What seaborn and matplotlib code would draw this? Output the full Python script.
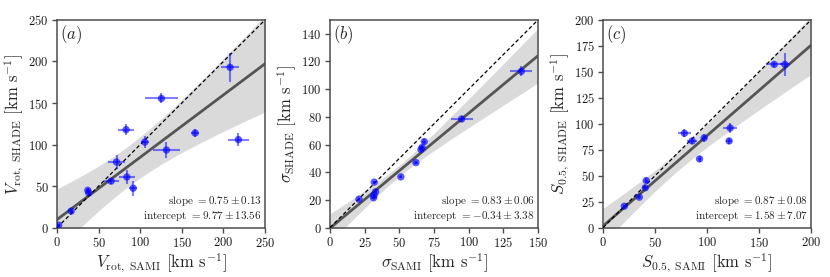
import numpy as np
import pandas as pd
import matplotlib
matplotlib.use("Agg")
import matplotlib.pyplot as plt
import seaborn as sns

# ---------------- data ----------------
# Panel (a): rotation velocity
vrot_sami = [2, 17, 37, 38, 65, 71.5, 84, 83, 91.5, 105.5, 125.5, 131.5, 166, 208, 218]
vrot_shade = [3, 20, 45, 42, 56, 79, 61, 118, 47.5, 103, 155.5, 93.5, 114, 193, 106]
vrot_sami_err = [1.5, 2, 2, 2, 9, 10, 10, 9.5, 5, 5, 20, 16, 5, 11, 13]
vrot_shade_err = [2, 2, 3, 3, 3, 8, 9, 7, 9, 7, 6, 10, 5, 17.5, 8]

# Panel (b): velocity dispersion
sig_sami = [20.9, 31.9, 31.7, 31.4, 32.9, 51.1, 62, 65.6, 66.4, 68, 94.9, 138]
sig_shade = [20.6, 32.9, 23.3, 21.6, 25.9, 36.7, 47, 56.5, 58, 62.2, 78.5, 112.9]
sig_sami_err = [1, 1, 1, 1, 1, 1, 1.5, 1.5, 1.5, 1.5, 8, 8]
sig_shade_err = [1, 1, 1, 1, 1, 1, 1, 1.5, 1.5, 1.5, 2, 3.5]

# Panel (c): S0.5
s05_sami = [20.5, 34.9, 40.6, 41.6, 78.3, 85.7, 92.8, 97.3, 121.3, 122.3, 164.6, 174.9]
s05_shade = [20.7, 29.4, 38.4, 45.4, 90.9, 83.5, 66.2, 86.4, 83.5, 96, 157.2, 157.2]
s05_sami_err = [1.5, 1.5, 1.5, 1.5, 6, 4.5, 1.5, 2.5, 3, 7, 8, 5]
s05_shade_err = [1.5, 1.5, 1.5, 2, 4, 3, 3, 4, 3, 5, 2.5, 11]

# fit results (slope, slope err, intercept, intercept err)
fit_a = (0.75, 0.13, 9.77, 13.56)
fit_b = (0.83, 0.06, -0.34, 3.38)
fit_c = (0.87, 0.08, 1.58, 7.07)

# confidence band shape (A, B, x0): half-width = sqrt(A + B (x - x0)^2)
band_a = (597, 0.1034, 86.4)
band_b = (16, 0.037, 50)
band_c = (87, 0.0413, 70)

limits_a = (250, 250)
limits_b = (150, 150)
limits_c = (200, 200)

xlabels = [r"$V_{\rm rot,\ SAMI}$ [km s$^{-1}$]",
           r"$\sigma_{\rm SAMI}$ [km s$^{-1}$]",
           r"$S_{0.5,\ \rm SAMI}$ [km s$^{-1}$]"]
ylabels = [r"$V_{\rm rot,\ SHADE}$ [km s$^{-1}$]",
           r"$\sigma_{\rm SHADE}$ [km s$^{-1}$]",
           r"$S_{0.5,\ \rm SHADE}$ [km s$^{-1}$]"]
panel_tags = [r"$(a)$", r"$(b)$", r"$(c)$"]
xticks = [np.arange(0, 251, 50), np.arange(0, 151, 25), np.arange(0, 201, 50)]
yticks = [np.arange(0, 251, 50), np.arange(0, 141, 20), np.arange(0, 201, 25)]

# ---------------- style ----------------
sns.set_style("ticks", {"axes.edgecolor": "0.3", "xtick.color": "0.3", "ytick.color": "0.3"})
plt.rcParams["font.family"] = ["cmr10", "DejaVu Serif"]
plt.rcParams["mathtext.fontset"] = "cm"
plt.rcParams["axes.formatter.use_mathtext"] = True
plt.rcParams["axes.unicode_minus"] = True
plt.rcParams["xtick.labelcolor"] = "0.1"
plt.rcParams["ytick.labelcolor"] = "0.1"

fig = plt.figure(figsize=(8.3, 2.77), dpi=100)
lefts = [0.0687, 0.3976, 0.7265]
axes = [fig.add_axes([l, 0.178, 0.2506, 0.750]) for l in lefts]

panels = [
    (vrot_sami, vrot_shade, vrot_sami_err, vrot_shade_err, fit_a, band_a, limits_a),
    (sig_sami, sig_shade, sig_sami_err, sig_shade_err, fit_b, band_b, limits_b),
    (s05_sami, s05_shade, s05_sami_err, s05_shade_err, fit_c, band_c, limits_c),
]

for i, (ax, (x, y, xe, ye, fit, band, lim)) in enumerate(zip(axes, panels)):
    slope, slope_err, icpt, icpt_err = fit
    A, B, x0 = band
    xg = np.linspace(0, lim[0], 300)
    yg = slope * xg + icpt
    hw = np.sqrt(A + B * (xg - x0) ** 2)
    ax.fill_between(xg, yg - hw, yg + hw, color="#dadada", lw=0, zorder=1)
    line_df = pd.DataFrame({"x": xg, "y": yg})
    sns.lineplot(data=line_df, x="x", y="y", ax=ax, color="#555555", lw=2, zorder=2)
    one_df = pd.DataFrame({"x": [0, lim[0]], "y": [0, lim[0]]})
    sns.lineplot(data=one_df, x="x", y="y", ax=ax, color="black", lw=0.9,
                 linestyle=(0, (3, 2)), zorder=3)
    ax.errorbar(x, y, xerr=xe, yerr=ye, fmt="none", ecolor="blue", alpha=0.5,
                elinewidth=1.5, zorder=4)
    df = pd.DataFrame({"x": x, "y": y})
    sns.scatterplot(data=df, x="x", y="y", ax=ax, color="blue", alpha=0.65,
                    s=28, edgecolor="none", zorder=5)
    ax.set_xlim(0, lim[0])
    ax.set_ylim(0, lim[1])
    ax.set_xticks(xticks[i])
    ax.set_yticks(yticks[i])
    ax.tick_params(labelsize=9, length=3.5, width=1, pad=2.5)
    ax.set_xlabel(xlabels[i], fontsize=12, labelpad=1)
    ax.set_ylabel(ylabels[i], fontsize=12, labelpad=2)
    ax.text(0.015, 0.985, panel_tags[i], transform=ax.transAxes, ha="left", va="top",
            fontsize=12)
    if icpt < 0:
        itxt = r"intercept $= -%.2f \pm %.2f$" % (abs(icpt), icpt_err)
    else:
        itxt = r"intercept $= %.2f \pm %.2f$" % (icpt, icpt_err)
    stxt = r"slope $= %.2f \pm %.2f$" % (slope, slope_err)
    ax.text(0.985, 0.025, stxt + "\n" + itxt, transform=ax.transAxes, ha="right",
            va="bottom", fontsize=8, linespacing=1.1)
    for sp in ax.spines.values():
        sp.set_linewidth(1.1)

fig.savefig("out.png", dpi=100)
